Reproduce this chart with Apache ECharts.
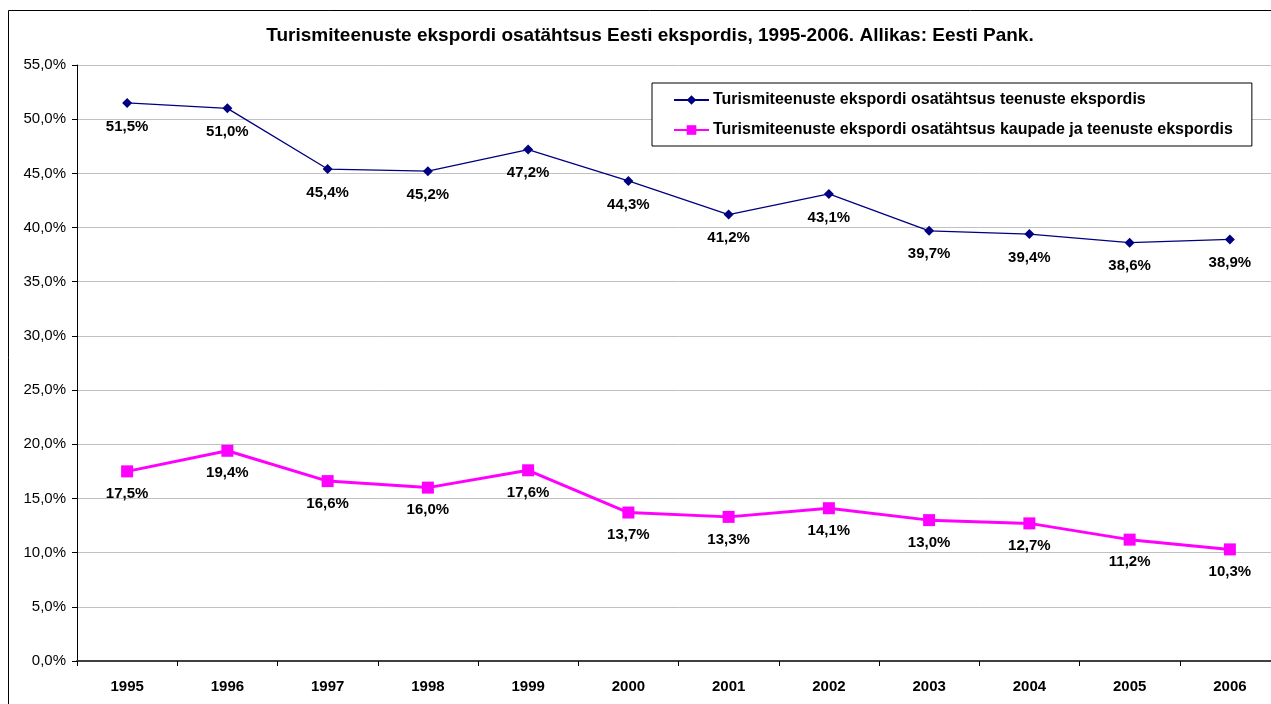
<!DOCTYPE html>
<html>
<head>
<meta charset="utf-8">
<script src="https://cdn.jsdelivr.net/npm/echarts@6/dist/echarts.min.js"></script>
<style>
  html, body { margin: 0; padding: 0; background: #fff; overflow: hidden; }
  #chart { width: 1290px; height: 704px; }
</style>
</head>
<body>
<div id="chart"></div>
<script>
const years = ['1995', '1996', '1997', '1998', '1999', '2000', '2001', '2002', '2003', '2004', '2005', '2006'];
const servicesShare = [51.5, 51.0, 45.4, 45.2, 47.2, 44.3, 41.2, 43.1, 39.7, 39.4, 38.6, 38.9];
const totalShare = [17.5, 19.4, 16.6, 16.0, 17.6, 13.7, 13.3, 14.1, 13.0, 12.7, 11.2, 10.3];

const FONT = 'Liberation Sans, Arial, sans-serif';
const fmt = (v) => v.toFixed(1).replace('.', ',') + '%';

// chart is a bit wider than the window: the original plot runs past the right edge
const chart = echarts.init(document.getElementById('chart'));

const option = {
  animation: false,
  backgroundColor: '#fff',
  textStyle: { fontFamily: FONT },
  graphic: [{
    type: 'rect',
    shape: { x: 8.5, y: 10.5, width: 1300, height: 740 },
    style: { fill: 'none', stroke: '#000', lineWidth: 1 },
    silent: true,
    z: 100
  }],
  title: {
    text: 'Turismiteenuste ekspordi osatähtsus Eesti ekspordis, 1995-2006. Allikas: Eesti Pank.',
    left: 645,
    textAlign: 'center',
    top: 21,
    textStyle: { fontFamily: FONT, fontSize: 19, fontWeight: 'bold', color: '#000' }
  },
  legend: {
    orient: 'vertical',
    left: 652,
    top: 83,
    padding: [9, 19, 8, 21],
    itemGap: 14,
    itemWidth: 35,
    itemHeight: 12,
    borderColor: '#000',
    borderWidth: 1,
    backgroundColor: '#fff',
    textStyle: { fontFamily: FONT, fontSize: 16, fontWeight: 'bold', color: '#000', padding: [0, 0, 0, -1] },
    data: [
      'Turismiteenuste ekspordi osatähtsus teenuste ekspordis',
      'Turismiteenuste ekspordi osatähtsus kaupade ja teenuste ekspordis'
    ]
  },
  grid: { left: 77, top: 65, bottom: 43, right: 10, containLabel: false },
  xAxis: {
    type: 'category',
    data: years,
    boundaryGap: true,
    axisLine: { lineStyle: { color: '#404040', width: 2 } },
    axisTick: { show: true, length: 5, inside: false, lineStyle: { color: '#000', width: 1 } },
    axisLabel: { fontFamily: FONT, fontSize: 15, fontWeight: 'bold', color: '#000', margin: 18 },
    splitLine: { show: false }
  },
  yAxis: {
    type: 'value',
    min: 0,
    max: 55,
    interval: 5,
    axisLine: { show: true, lineStyle: { color: '#000', width: 1 } },
    axisTick: { show: true, length: 5, lineStyle: { color: '#000' } },
    axisLabel: { fontFamily: FONT, fontSize: 15, color: '#000', margin: 11, formatter: (v) => fmt(v) },
    splitLine: { show: true, lineStyle: { color: '#c0c0c0', width: 1 } }
  },
  series: [
    {
      name: 'Turismiteenuste ekspordi osatähtsus teenuste ekspordis',
      type: 'line',
      data: servicesShare,
      symbol: 'diamond',
      symbolSize: 10,
      lineStyle: { color: '#000080', width: 1.3 },
      itemStyle: { color: '#000080' },
      label: {
        show: true,
        position: 'bottom',
        distance: 11,
        fontFamily: FONT,
        fontSize: 15,
        fontWeight: 'bold',
        color: '#000',
        formatter: (p) => fmt(p.value)
      }
    },
    {
      name: 'Turismiteenuste ekspordi osatähtsus kaupade ja teenuste ekspordis',
      type: 'line',
      data: totalShare,
      symbol: 'rect',
      symbolSize: 12,
      lineStyle: { color: '#ff00ff', width: 3 },
      itemStyle: { color: '#ff00ff' },
      label: {
        show: true,
        position: 'bottom',
        distance: 9,
        fontFamily: FONT,
        fontSize: 15,
        fontWeight: 'bold',
        color: '#000',
        formatter: (p) => fmt(p.value)
      }
    }
  ]
};

chart.setOption(option);
</script>
</body>
</html>
